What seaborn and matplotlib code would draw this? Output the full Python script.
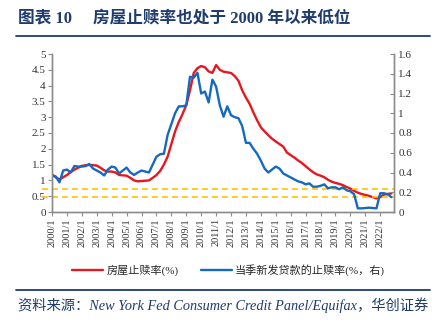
import matplotlib
matplotlib.use("Agg")
import matplotlib.pyplot as plt
import seaborn as sns
import pandas as pd
import numpy as np

# quarterly data 2000Q1 .. 2022Q4
foreclosure_rate = [
    1.19, 1.10, 1.03, 1.10, 1.17, 1.26, 1.34, 1.40, 1.46, 1.48,
    1.49, 1.48, 1.47, 1.40, 1.32, 1.28, 1.28, 1.25, 1.17, 1.16,
    1.15, 1.08, 1.00, 0.97, 0.98, 0.99, 1.00, 1.08, 1.17, 1.30,
    1.50, 1.75, 2.15, 2.55, 2.85, 3.10, 3.38, 3.85, 4.40, 4.55,
    4.62, 4.58, 4.45, 4.40, 4.65, 4.50, 4.44, 4.42, 4.40, 4.30,
    4.15, 3.85, 3.62, 3.42, 3.15, 2.90, 2.68, 2.55, 2.43, 2.32,
    2.23, 2.15, 2.07, 1.88, 1.80, 1.72, 1.63, 1.55, 1.45, 1.35,
    1.26, 1.19, 1.15, 1.10, 1.02, 0.96, 0.92, 0.89, 0.85, 0.79,
    0.74, 0.67, 0.61, 0.57, 0.54, 0.51, 0.47, 0.43, 0.47, 0.55,
    0.57, 0.59,
]
new_loan_rate = [
    0.37, 0.36, 0.30, 0.42, 0.43, 0.40, 0.466, 0.46, 0.46, 0.465,
    0.486, 0.44, 0.42, 0.40, 0.37, 0.43, 0.46, 0.45, 0.39, 0.42,
    0.45, 0.40, 0.375, 0.40, 0.42, 0.41, 0.40, 0.48, 0.56, 0.585,
    0.59, 0.78, 0.89, 1.00, 1.07, 1.07, 1.08, 1.37, 1.36, 1.41,
    1.20, 1.22, 1.11, 1.34, 1.27, 1.08, 0.965, 1.07, 0.98, 0.96,
    0.95, 0.87, 0.70, 0.70, 0.64, 0.59, 0.52, 0.44, 0.40, 0.43,
    0.46, 0.44, 0.39, 0.37, 0.35, 0.33, 0.31, 0.30, 0.28, 0.29,
    0.256, 0.256, 0.265, 0.28, 0.24, 0.25, 0.25, 0.23, 0.25, 0.22,
    0.21, 0.18, 0.037, 0.037, 0.04, 0.044, 0.04, 0.037, 0.19, 0.19,
    0.18, 0.15,
]
years = list(range(2000, 2023))
tick_labels = [f"{y}/1" for y in years]
left_ticks = [0, 0.5, 1, 1.5, 2, 2.5, 3, 3.5, 4, 4.5, 5]
right_ticks = [0, 0.2, 0.4, 0.6, 0.8, 1, 1.2, 1.4, 1.6]
ref_levels = [0.73, 0.48]

title_num = "图表 10"
title_text = "房屋止赎率也处于 2000 年以来低位"
source_text = "资料来源：New York Fed Consumer Credit Panel/Equifax，华创证券"
label_red = "房屋止赎率(%)"
label_blue = "当季新发贷款的止赎率(%，右)"

sns.set_theme(style="white")
plt.rcParams['font.family'] = ['Liberation Serif', 'Noto Sans CJK SC', 'DejaVu Sans']

navy = "#1f3c6e"
red = "#e8161e"
blue = "#1569c0"
yellow = "#ffc000"
grey = "#8c8c8c"

df = pd.DataFrame({
    "q": np.arange(len(foreclosure_rate)),
    "red": foreclosure_rate,
    "blue": new_loan_rate,
})

fig = plt.figure(figsize=(4.35, 3.25), dpi=100)
ax = fig.add_axes([52/435, 1-212/325, (394-52)/435, (212-54)/325])
ax2 = ax.twinx()

sns.lineplot(data=df, x="q", y="red", ax=ax, color=red, linewidth=1.7, label=label_red, legend=False)
sns.lineplot(data=df, x="q", y="blue", ax=ax2, color=blue, linewidth=1.7, label=label_blue, legend=False)

for lv in ref_levels:
    ax.axhline(lv, xmin=-0.03, xmax=1.0, color=yellow, linestyle=(0, (3.5, 2.5)), linewidth=1.2, clip_on=False, zorder=5)

ax.set_xlim(0, 91.7)
ax.set_ylim(0, 5)
ax2.set_ylim(0, 1.6)
ax.set_xticks([4*i for i in range(len(years))])
ax.set_xticklabels(tick_labels, rotation=90, fontsize=7.5, color="#333333")
ax.set_yticks(left_ticks)
ax.set_yticklabels([f"{t:g}" for t in left_ticks], fontsize=8, color="#333333")
ax2.set_yticks(right_ticks)
ax2.set_yticklabels([f"{t:g}" for t in right_ticks], fontsize=8, color="#333333")
ax.set_xlabel("")
ax.set_ylabel("")
ax2.set_ylabel("")

for a in (ax, ax2):
    a.spines["top"].set_visible(False)
    for s in ("left", "right", "bottom"):
        a.spines[s].set_color(grey)
        a.spines[s].set_linewidth(1.0)
    a.grid(False)
ax.tick_params(axis="y", which="both", left=True, direction="out", length=3, width=0.8, color=grey, pad=1.5)
ax.tick_params(axis="x", bottom=True, direction="out", length=3, width=0.8, color=grey, pad=1.5)
ax2.tick_params(axis="y", right=True, direction="in", length=3, width=0.8, color=grey, pad=3)

# title and frame lines
fam = ['Liberation Serif', 'Noto Sans CJK SC']
fig.text(18/435, 1-19/325, title_num, fontsize=12, fontweight="bold", color=navy,
         family=fam, va="center", ha="left")
fig.text(93/435, 1-19/325, title_text, fontsize=12, fontweight="bold", color=navy,
         family=fam, va="center", ha="left")
fig.add_artist(plt.Line2D([16/435, 430/435], [1-36/325, 1-36/325], color=navy, linewidth=1.3))
fig.add_artist(plt.Line2D([16/435, 430/435], [1-290/325, 1-290/325], color=navy, linewidth=1.3))
fig.text(18/435, 1-305/325, source_text, fontsize=10.3, style="italic", color=navy,
         family=fam, va="center", ha="left")

h1, l1 = ax.get_legend_handles_labels()
h2, l2 = ax2.get_legend_handles_labels()
fig.legend(h1 + h2, l1 + l2, loc="center", bbox_to_anchor=(0.525, 1-270/325), ncol=2,
           frameon=False, handlelength=2.8, columnspacing=2.0, handletextpad=0.3,
           prop={'family': fam, 'size': 8})

fig.savefig("out.png", dpi=100)
